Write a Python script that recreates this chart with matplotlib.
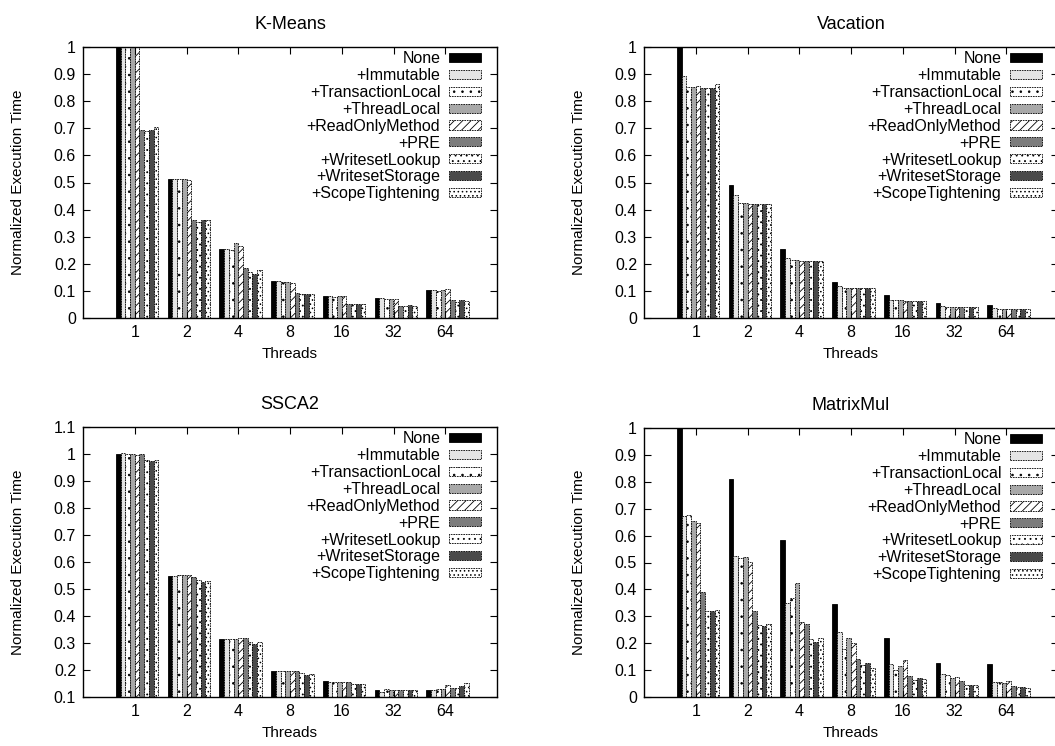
"""Normalized execution time per optimisation, four benchmarks."""

import numpy as np
import matplotlib
matplotlib.use("Agg")
import matplotlib.pyplot as plt
from matplotlib.ticker import FuncFormatter

plt.rcParams['font.family'] = ['Liberation Sans', 'DejaVu Sans']
plt.rcParams['hatch.linewidth'] = 0.6

threads = ['1', '2', '4', '8', '16', '32', '64']
series = ['None', '+Immutable', '+TransactionLocal', '+ThreadLocal',
          '+ReadOnlyMethod', '+PRE', '+WritesetLookup', '+WritesetStorage',
          '+ScopeTightening']

# rows follow `series`, columns follow `threads`
kmeans = [
    [1.0, 0.514, 0.253, 0.136, 0.082, 0.074, 0.105],
    [1.0, 0.514, 0.253, 0.135, 0.080, 0.073, 0.103],
    [1.0, 0.514, 0.250, 0.133, 0.076, 0.070, 0.100],
    [1.0, 0.514, 0.276, 0.134, 0.080, 0.070, 0.103],
    [1.0, 0.509, 0.264, 0.130, 0.083, 0.070, 0.108],
    [0.695, 0.360, 0.183, 0.094, 0.053, 0.045, 0.066],
    [0.690, 0.355, 0.171, 0.088, 0.052, 0.045, 0.060],
    [0.692, 0.363, 0.161, 0.088, 0.053, 0.048, 0.065],
    [0.706, 0.360, 0.176, 0.088, 0.053, 0.045, 0.062],
]
vacation = [
    [1.0, 0.491, 0.254, 0.134, 0.084, 0.056, 0.047],
    [0.892, 0.454, 0.221, 0.118, 0.068, 0.043, 0.036],
    [0.853, 0.423, 0.215, 0.110, 0.066, 0.040, 0.033],
    [0.853, 0.423, 0.215, 0.110, 0.065, 0.040, 0.032],
    [0.855, 0.422, 0.210, 0.110, 0.064, 0.040, 0.032],
    [0.848, 0.422, 0.210, 0.110, 0.063, 0.040, 0.032],
    [0.850, 0.420, 0.210, 0.110, 0.062, 0.040, 0.032],
    [0.848, 0.420, 0.210, 0.110, 0.063, 0.040, 0.033],
    [0.862, 0.420, 0.210, 0.110, 0.063, 0.040, 0.032],
]
ssca2 = [
    [1.0, 0.549, 0.316, 0.195, 0.159, 0.125, 0.127],
    [1.002, 0.550, 0.316, 0.195, 0.155, 0.120, 0.125],
    [1.0, 0.552, 0.316, 0.195, 0.155, 0.128, 0.130],
    [1.0, 0.553, 0.316, 0.195, 0.155, 0.127, 0.130],
    [0.998, 0.553, 0.318, 0.195, 0.155, 0.127, 0.143],
    [1.0, 0.545, 0.320, 0.196, 0.155, 0.125, 0.135],
    [0.978, 0.533, 0.305, 0.190, 0.150, 0.127, 0.135],
    [0.975, 0.527, 0.298, 0.180, 0.148, 0.127, 0.140],
    [0.978, 0.530, 0.305, 0.185, 0.150, 0.125, 0.152],
]
matrixmul = [
    [1.0, 0.811, 0.584, 0.344, 0.221, 0.128, 0.124],
    [0.673, 0.524, 0.348, 0.240, 0.122, 0.087, 0.056],
    [0.676, 0.516, 0.369, 0.177, 0.100, 0.080, 0.055],
    [0.656, 0.522, 0.425, 0.218, 0.114, 0.072, 0.052],
    [0.648, 0.503, 0.280, 0.199, 0.137, 0.075, 0.058],
    [0.391, 0.319, 0.273, 0.140, 0.077, 0.058, 0.040],
    [0.320, 0.267, 0.215, 0.118, 0.062, 0.046, 0.036],
    [0.318, 0.263, 0.205, 0.125, 0.070, 0.046, 0.038],
    [0.322, 0.271, 0.218, 0.106, 0.068, 0.043, 0.035],
]

# gnuplot-ish fill styles: (facecolor, hatch)
styles = [
    ('black', None),
    ('#e4e4e4', None),
    ('white', '..'),
    ('#a8a8a8', None),
    ('white', '////'),
    ('#7c7c7c', None),
    ('white', '...'),
    ('#4a4a4a', None),
    ('white', '....'),
]

W, H = 1055, 746
FS = 11.5
fig = plt.figure(figsize=(W / 100, H / 100), dpi=100)


def add_axes(left, top, right, bottom):
    # pixel box -> figure fractions
    return fig.add_axes([left / W, 1 - bottom / H, (right - left) / W, (bottom - top) / H])


def plot_panel(ax, data, title, ylim, yticks):
    x = np.arange(len(threads))
    bw = 1.0 / 11
    for j, (name, vals) in enumerate(zip(series, data)):
        fc, hatch = styles[j]
        ls = '-' if j == 0 else (0, (2, 1))
        ax.bar(x + (j - 3.5) * bw, vals, width=bw, color=fc, edgecolor='black',
               hatch=hatch, linewidth=0.6, linestyle=ls, label=name)
    ax.set_xlim(-1, 7)
    ax.set_ylim(*ylim)
    ax.set_xticks(x)
    ax.set_xticklabels(threads)
    ax.set_yticks(yticks)
    ax.yaxis.set_major_formatter(FuncFormatter(lambda v, p: '%g' % round(v, 2)))
    ax.tick_params(direction='in', top=True, right=True, length=5, width=0.8,
                   labelsize=FS, pad=5)
    for s in ax.spines.values():
        s.set_linewidth(1.0)
    ax.set_title(title, fontsize=FS + 1.5, pad=13)
    ax.set_xlabel('Threads', fontsize=FS - 0.5, labelpad=5)
    ax.set_ylabel('Normalized Execution Time', fontsize=FS - 0.5, labelpad=21)
    w = ax.get_position().width * W
    h = ax.get_position().height * H
    ax.legend(loc='upper right', markerfirst=False, frameon=False, fontsize=FS,
              handlelength=2.0, handleheight=0.5, handletextpad=0.55,
              labelspacing=0.12, borderpad=0, borderaxespad=0,
              bbox_to_anchor=(1 - 16 / w, 1 - 4 / h))


ax1 = add_axes(83, 47, 497, 318)
plot_panel(ax1, kmeans, 'K-Means', (0, 1), np.arange(0, 1.01, 0.1))
ax2 = add_axes(644, 47, 1058, 318)
plot_panel(ax2, vacation, 'Vacation', (0, 1), np.arange(0, 1.01, 0.1))
ax3 = add_axes(83, 427, 497, 697)
plot_panel(ax3, ssca2, 'SSCA2', (0.1, 1.1), np.arange(0.1, 1.11, 0.1))
ax4 = add_axes(644, 428, 1058, 697)
plot_panel(ax4, matrixmul, 'MatrixMul', (0, 1), np.arange(0, 1.01, 0.1))

fig.savefig('out.png', dpi=100)
